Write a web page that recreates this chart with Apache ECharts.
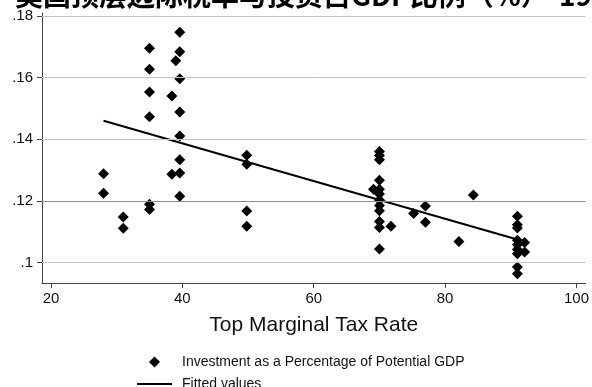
<!DOCTYPE html>
<html>
<head>
<meta charset="utf-8">
<script src="https://cdn.jsdelivr.net/npm/echarts@6/dist/echarts.min.js"></script>
<style>
  html, body { margin: 0; padding: 0; background: #fff; }
  #chart { width: 592px; height: 387px; }
</style>
</head>
<body>
<div id="chart"></div>
<script>
// Top marginal tax rate vs. investment share of potential GDP
const taxRate = [
  28, 28,
  31, 31,
  35, 35, 35, 35, 35, 35,
  38.4, 38.4, 39.0,
  39.6, 39.6, 39.6, 39.6, 39.6, 39.6, 39.6, 39.6,
  49.8, 49.8, 49.8, 49.8,
  70, 70, 70, 70, 70, 70, 70, 70, 70, 70, 70, 70, 69.1,
  71.75, 75.2, 77, 77, 82.1, 84.3,
  91, 91, 91, 91, 91, 91, 91, 91, 91,
  92.1, 92.1
];
const investment = [
  0.1288, 0.1225,
  0.1148, 0.1111,
  0.1695, 0.1627, 0.1553, 0.1473, 0.1189, 0.1172,
  0.1540, 0.1286, 0.1654,
  0.1747, 0.1683, 0.1596, 0.1488, 0.1410, 0.1333, 0.1290, 0.1215,
  0.1348, 0.1319, 0.1167, 0.1118,
  0.1360, 0.1347, 0.1333, 0.1267, 0.1238, 0.1222, 0.1203, 0.1185, 0.1168, 0.1133, 0.1114, 0.1044, 0.1238,
  0.1118, 0.1159, 0.1183, 0.1131, 0.1068, 0.1219,
  0.1150, 0.1123, 0.1112, 0.1072, 0.1058, 0.1042, 0.1029, 0.0986, 0.0964,
  0.1065, 0.1034
];
// Linear fit endpoints
const fitX = [28, 91];
const fitY = [0.1460, 0.1075];

const xTicks = [20, 40, 60, 80, 100];
const yTicks = [0.1, 0.12, 0.14, 0.16, 0.18];

const titleText = '美国顶层边际税率与投资占GDP比例（%）-1950';
const scatterName = 'Investment as a Percentage of Potential GDP';
const fitName = 'Fitted values';

const FONT = '"Liberation Sans", Arial, sans-serif';
const chart = echarts.init(document.getElementById('chart'), null, { renderer: 'canvas' });

const points = taxRate.map((x, i) => [x, investment[i]]);
const fitLine = fitX.map((x, i) => [x, fitY[i]]);

const legendText = { fontFamily: FONT, fontSize: 14, color: '#111', lineHeight: 14 };

chart.setOption({
  animation: false,
  backgroundColor: '#ffffff',
  title: {
    text: titleText,
    left: 15,
    top: -19,
    padding: 0,
    textStyle: {
      fontFamily: '"Noto Sans CJK SC", sans-serif',
      fontSize: 28,
      fontWeight: 'bold',
      color: '#000'
    }
  },
  grid: { left: 42, top: 13, width: 544, height: 270, containLabel: false },
  xAxis: {
    type: 'value',
    min: 18.63,
    max: 101.37,
    name: 'Top Marginal Tax Rate',
    nameLocation: 'middle',
    nameGap: 32,
    nameTextStyle: { fontFamily: FONT, fontSize: 21, color: '#111' },
    axisLine: { show: true, lineStyle: { color: '#444', width: 1 } },
    axisTick: { show: true, length: 5, customValues: xTicks, lineStyle: { color: '#444' } },
    axisLabel: {
      customValues: xTicks,
      fontFamily: FONT, fontSize: 15, color: '#111', margin: 8
    },
    splitLine: { show: false }
  },
  yAxis: {
    type: 'value',
    min: 0.09338,
    max: 0.1809,
    axisLine: { show: true, lineStyle: { color: '#444', width: 1 } },
    axisTick: { show: true, length: 5, customValues: yTicks, lineStyle: { color: '#444' } },
    axisLabel: {
      customValues: yTicks,
      fontFamily: FONT, fontSize: 15, color: '#111', margin: 9,
      formatter: v => String(+v.toFixed(4)).replace(/^0/, '')
    },
    splitLine: { show: false }
  },
  legend: [
    {
      left: 149,
      top: 355,
      padding: 0,
      itemWidth: 11,
      itemHeight: 11,
      textStyle: Object.assign({ padding: [0, 0, 0, 17] }, legendText),
      data: [{ name: scatterName, icon: 'diamond' }]
    },
    {
      left: 137,
      top: 377,
      padding: 0,
      itemWidth: 35,
      itemHeight: 2,
      textStyle: Object.assign({ padding: [0, 0, 0, 5] }, legendText),
      data: [{ name: fitName, icon: 'rect', itemStyle: { color: '#000' } }]
    }
  ],
  series: [
    {
      // horizontal gridlines at the labelled y ticks
      type: 'line',
      data: [],
      silent: true,
      z: 1,
      markLine: {
        silent: true,
        symbol: ['none', 'none'],
        label: { show: false },
        lineStyle: { type: 'solid', width: 1, color: '#c4c4c4' },
        data: yTicks.map(v => ({
          yAxis: v,
          lineStyle: { color: v === 0.12 ? '#8a8a8a' : '#c4c4c4' }
        }))
      }
    },
    {
      name: scatterName,
      type: 'scatter',
      symbol: 'diamond',
      symbolSize: 11,
      itemStyle: { color: '#000', opacity: 1 },
      z: 3,
      data: points
    },
    {
      name: fitName,
      type: 'line',
      symbol: 'none',
      lineStyle: { color: '#000', width: 2 },
      itemStyle: { color: '#000' },
      z: 4,
      data: fitLine
    }
  ]
});
</script>
</body>
</html>
